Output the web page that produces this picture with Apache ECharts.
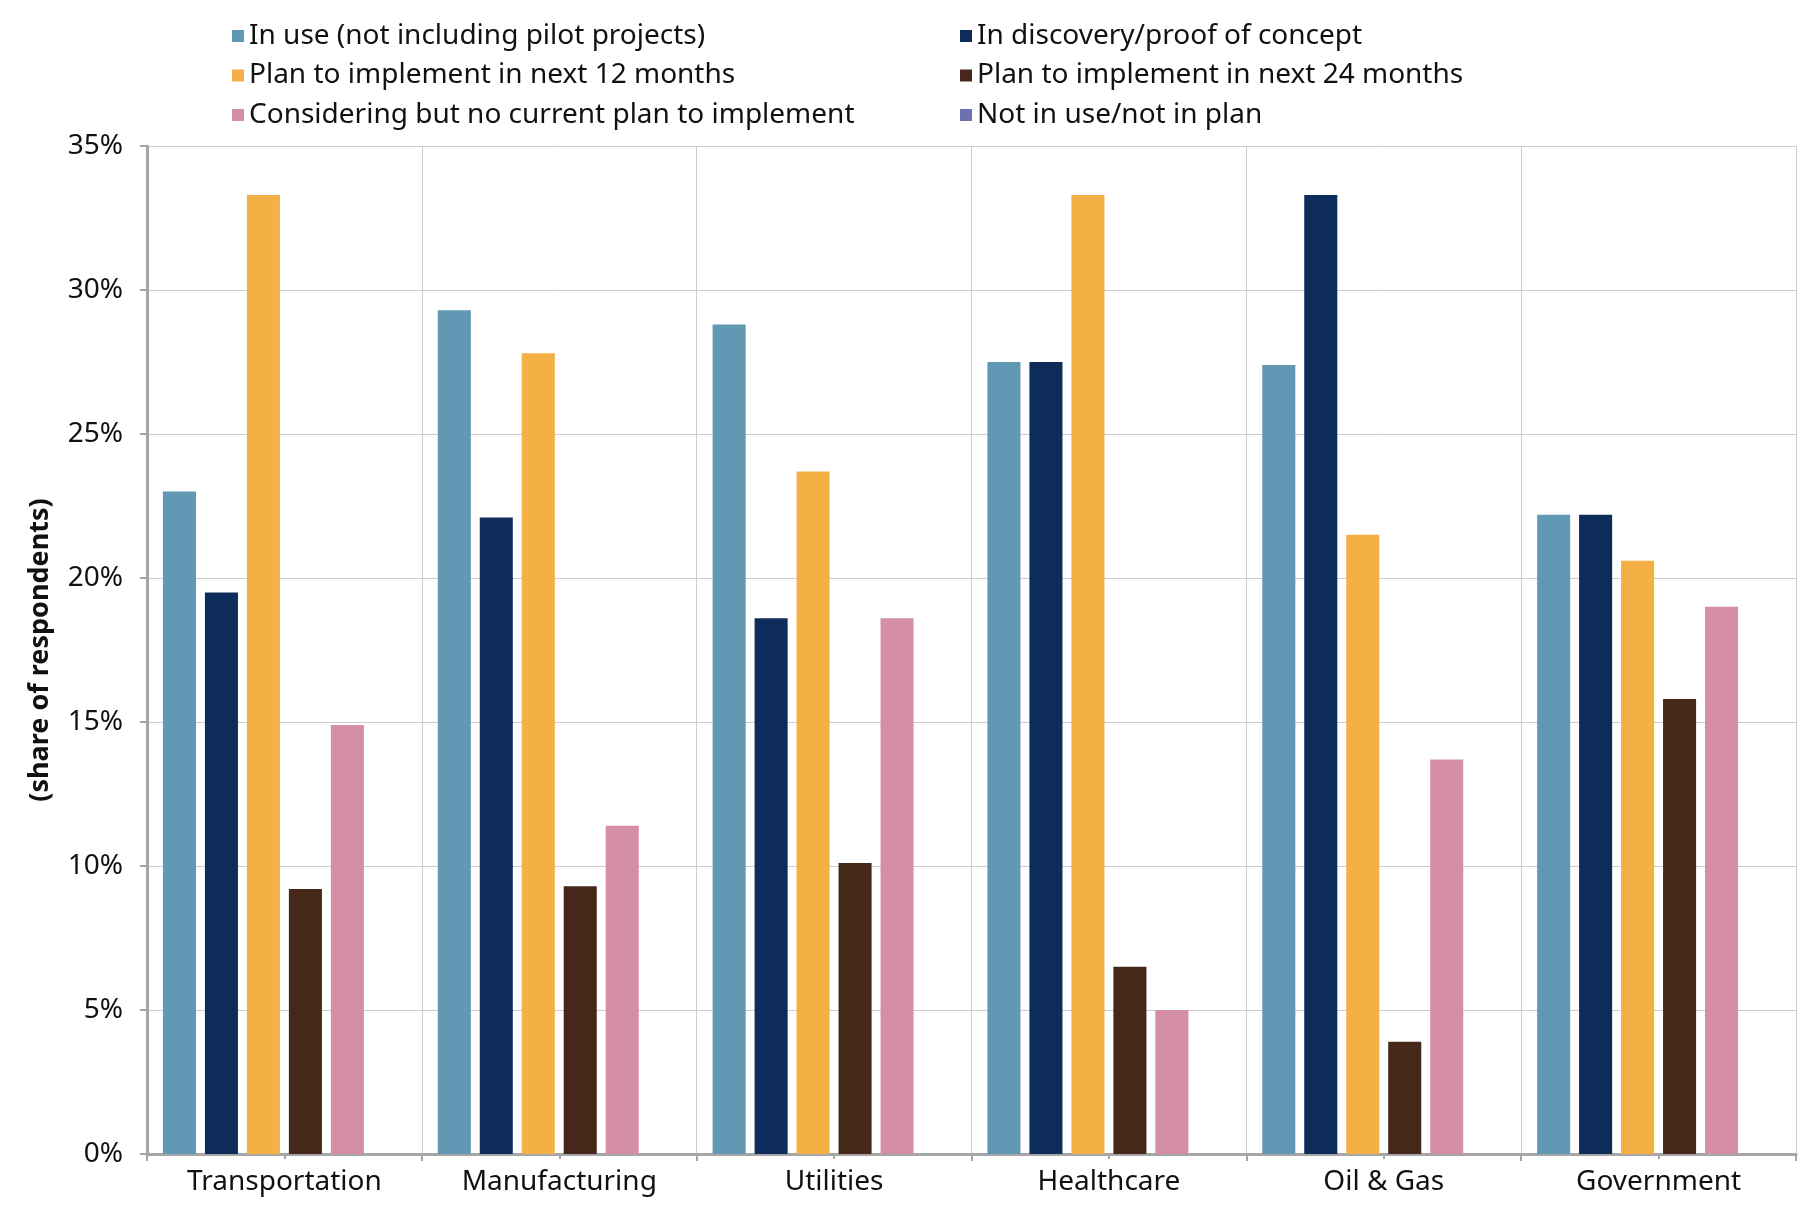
<!DOCTYPE html>
<html>
<head>
<meta charset="utf-8">
<style>html,body{margin:0;padding:0;background:#fff}#c{width:1810px;height:1212px}</style>
<script src="https://cdn.jsdelivr.net/npm/echarts@6/dist/echarts.min.js"></script>
</head>
<body>
<div id="c"></div>
<script>
const categories = ['Transportation', 'Manufacturing', 'Utilities', 'Healthcare', 'Oil & Gas', 'Government'];
const seriesNames = [
  'In use (not including pilot projects)',
  'In discovery/proof of concept',
  'Plan to implement in next 12 months',
  'Plan to implement in next 24 months',
  'Considering but no current plan to implement',
  'Not in use/not in plan'
];
const inUse        = [23.0, 29.3, 28.8, 27.5, 27.4, 22.2];
const discovery    = [19.5, 22.1, 18.6, 27.5, 33.3, 22.2];
const plan12       = [33.3, 27.8, 23.7, 33.3, 21.5, 20.6];
const plan24       = [9.2, 9.3, 10.1, 6.5, 3.9, 15.8];
const considering  = [14.9, 11.4, 18.6, 5.0, 13.7, 19.0];
const notInUse     = [0, 0, 0, 0, 0, 0];
const yTicks = [0, 5, 10, 15, 20, 25, 30, 35];

const colors = ['#6199B5', '#0E2C5A', '#F4AF45', '#46281B', '#D48FA6', '#6E70B2'];
const values = [inUse, discovery, plan12, plan24, considering, notInUse];
const FONT = 'Noto Sans';

const chart = echarts.init(document.getElementById('c'), null, {renderer: 'canvas'});
const legendText = {fontFamily: FONT, fontSize: 28, color: '#111', lineHeight: 28};
chart.setOption({
  animation: false,
  color: colors,
  legend: [
    {
      orient: 'vertical', left: 232, top: 22, padding: 0, itemWidth: 12, itemHeight: 12, itemGap: 11.5,
      icon: 'rect', data: [seriesNames[0], seriesNames[2], seriesNames[4]],
      textStyle: legendText, selectedMode: false
    },
    {
      orient: 'vertical', left: 960, top: 22, padding: 0, itemWidth: 12, itemHeight: 12, itemGap: 11.5,
      icon: 'rect', data: [seriesNames[1], seriesNames[3], seriesNames[5]],
      textStyle: legendText, selectedMode: false
    }
  ],
  grid: {left: 147, right: 14, top: 146, bottom: 58, containLabel: false,
         show: false},
  xAxis: [
    {
      type: 'category', data: categories, position: 'bottom',
      axisLine: {show: true, lineStyle: {color: '#A6A6A6', width: 3}},
      axisTick: {show: true, alignWithLabel: false, length: 7, lineStyle: {color: '#A6A6A6', width: 2}},
      axisLabel: {fontFamily: FONT, fontSize: 28, color: '#111', margin: 14},
      splitLine: {show: true, lineStyle: {color: '#CCCCCC', width: 1}}
    },
    {
      type: 'category', data: categories, position: 'bottom',
      axisLine: {show: false},
      axisTick: {show: true, alignWithLabel: true, length: 5, lineStyle: {color: '#A6A6A6', width: 2}},
      axisLabel: {show: false},
      splitLine: {show: false}
    }
  ],
  yAxis: {
    type: 'value', min: 0, max: 35, interval: 5,
    name: '(share of respondents)', nameLocation: 'middle', nameGap: 93, nameRotate: 90,
    nameTextStyle: {fontFamily: FONT, fontSize: 27, fontWeight: 'bold', color: '#111'},
    axisLine: {show: true, lineStyle: {color: '#A6A6A6', width: 3}},
    axisTick: {show: true, length: 7, lineStyle: {color: '#A6A6A6', width: 2}},
    axisLabel: {fontFamily: FONT, fontSize: 28, color: '#111', margin: 24,
                formatter: v => yTicks.includes(v) ? v + '%' : ''},
    splitLine: {show: true, lineStyle: {color: '#CCCCCC', width: 1}}
  },
  series: seriesNames.map((n, i) => ({
    name: n, type: 'bar', data: values[i], xAxisIndex: 0,
    barCategoryGap: '11.6%', barGap: '27%',
    itemStyle: {color: colors[i]}
  }))
});
</script>
</body>
</html>
